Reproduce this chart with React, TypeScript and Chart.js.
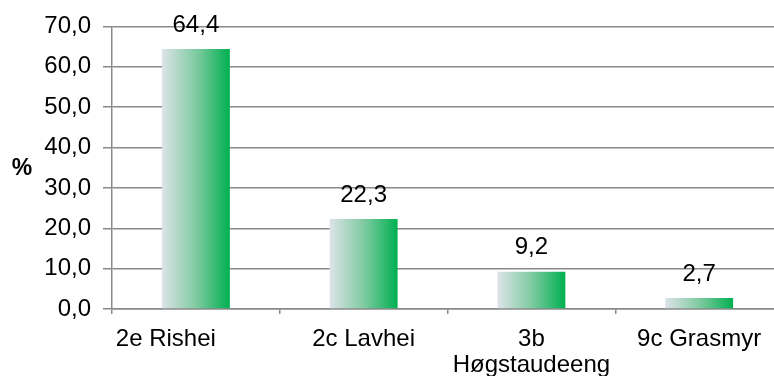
import React, { useEffect, useRef } from "react";
import { Chart, registerables } from "chart.js";

Chart.register(...registerables);

// Share of each vegetation type (%)
const categories: (string | string[])[] = ["2e Rishei         ", "2c Lavhei", ["3b", "Høgstaudeeng"], "9c Grasmyr"];
const shares: number[] = [64.4, 22.3, 9.2, 2.7];
const yTicks: number[] = [0, 10, 20, 30, 40, 50, 60, 70];

const FONT = "'Liberation Sans', Arial, sans-serif";
const AXIS_GREY = "#8a8a8a";
const BAR_FRACTION = 0.405;

const fmt = (v: number) => v.toFixed(1).replace(".", ",");

// Horizontal grey-to-green fill, built per bar from the category scale
function barFill(context: any) {
  const chart = context.chart;
  const xs = chart.scales?.x;
  if (!xs || context.dataIndex === undefined) return "#00b050";
  const cx = xs.getPixelForValue(context.dataIndex);
  const half = ((xs.right - xs.left) / categories.length) * BAR_FRACTION / 2;
  if (!Number.isFinite(cx) || !Number.isFinite(half) || half <= 0) return "#00b050";
  const g = chart.ctx.createLinearGradient(cx - half, 0, cx + half, 0);
  g.addColorStop(0, "#dde3e8");
  g.addColorStop(0.5, "#80cba2");
  g.addColorStop(1, "#00b050");
  return g;
}

// Value above each bar and the horizontal unit title
const annotations = {
  id: "annotations",
  afterDatasetsDraw(chart: any) {
    const ctx = chart.ctx as CanvasRenderingContext2D;
    const area = chart.chartArea;
    ctx.save();
    ctx.fillStyle = "#000";
    ctx.textAlign = "center";
    ctx.textBaseline = "middle";
    ctx.font = `24px ${FONT}`;
    chart.getDatasetMeta(0).data.forEach((bar: any, i: number) => {
      ctx.fillText(fmt(shares[i]), bar.x, bar.y - 24);
    });
    ctx.font = `bold 23px ${FONT}`;
    ctx.fillText("%", 22, (area.top + area.bottom) / 2 + 1);
    ctx.restore();
  },
};

export default function App() {
  const ref = useRef<HTMLCanvasElement | null>(null);

  useEffect(() => {
    if (!ref.current) return;
    const chart = new Chart(ref.current, {
      type: "bar",
      data: {
        labels: categories,
        datasets: [
          {
            data: shares,
            backgroundColor: barFill,
            borderWidth: 0,
            categoryPercentage: 1,
            barPercentage: BAR_FRACTION,
          },
        ],
      },
      options: {
        responsive: false,
        animation: false,
        layout: { padding: { top: 25, right: 17, bottom: 0, left: 0 } },
        plugins: {
          legend: { display: false },
          tooltip: { enabled: false },
        },
        scales: {
          x: {
            offset: true,
            grid: {
              offset: true,
              drawOnChartArea: false,
              drawTicks: true,
              tickLength: 5,
              color: AXIS_GREY,
              lineWidth: 1.5,
            },
            border: { color: AXIS_GREY, width: 1.5 },
            ticks: {
              color: "#000",
              padding: 13,
              maxRotation: 0,
              autoSkip: false,
              font: { family: FONT, size: 24, lineHeight: 1.07 },
            },
            afterFit(scale: any) {
              scale.height = 67;
            },
          },
          y: {
            min: 0,
            max: 70,
            afterBuildTicks(scale: any) {
              scale.ticks = yTicks.map((v) => ({ value: v }));
            },
            grid: {
              color: AXIS_GREY,
              lineWidth: 1.5,
              tickLength: 9,
            },
            border: { color: AXIS_GREY, width: 1.5 },
            ticks: {
              color: "#000",
              padding: 12,
              font: { family: FONT, size: 24 },
              callback: (v: any) => fmt(Number(v)),
            },
            afterFit(scale: any) {
              scale.width = 112;
            },
          },
        },
      },
      plugins: [annotations],
    });
    return () => chart.destroy();
  }, []);

  return (
    <div
      style={{
        position: "fixed",
        left: 0,
        top: 0,
        width: 774,
        height: 376,
        overflow: "hidden",
        background: "#fff",
      }}
    >
      <canvas ref={ref} width={800} height={376} style={{ width: 800, height: 376, display: "block" }} />
    </div>
  );
}
